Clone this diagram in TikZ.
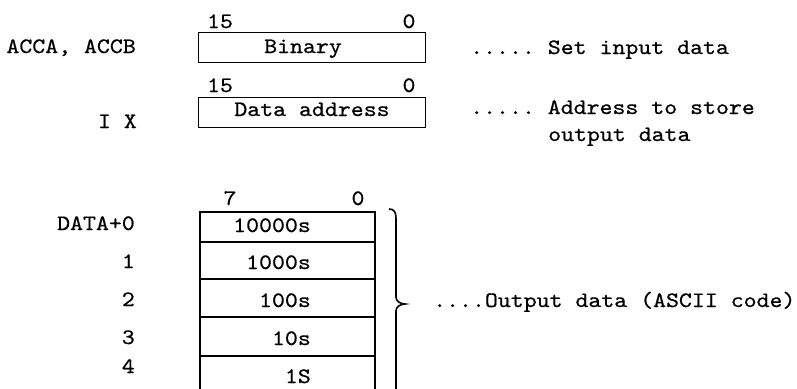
\documentclass[tikz,border=0pt]{standalone}
\usepackage{fontspec}
\setmonofont{lmmono10-regular.otf}[FakeStretch=1.12, FakeBold=0.6]
\begin{document}
\begin{tikzpicture}[x=1pt,y=-1pt,
  every node/.style={inner sep=0pt, font=\ttfamily\fontsize{22}{27}\selectfont},
  reg/.style={draw, line width=1.4pt, anchor=north west, minimum width=227pt, minimum height=30pt},
  cell/.style={draw, line width=1.6pt, anchor=north west, minimum width=175pt},
  lbl/.style={anchor=base east},
  txt/.style={anchor=base west},
  val/.style={anchor=base east},
  bitno/.style={anchor=base},
]
\useasboundingbox (0,0) rectangle (797,388);
\clip (0,0) rectangle (797,388);

% ---- register ACCA, ACCB
\node[bitno] (b15a) at (220,28) {15};
\node[bitno] (b0a) at (409,28) {0};
\node[reg] (bin) at (198,32) {};
\node[bitno] (binT) at (303,53) {Binary};
\node[lbl] (acc) at (136,53) {ACCA, ACCB};
\node[txt] (setin) at (470,54) {..... Set input data};

% ---- register IX
\node[bitno] (b15b) at (220,92) {15};
\node[bitno] (b0b) at (409,92) {0};
\node[reg] (adr) at (198,97) {};
\node[bitno] (adrT) at (312,116) {Data address};
\node[lbl] (ix) at (137,128) {I X};
\node[txt] (adrD1) at (470,114) {..... Address to store};
\node[txt] (adrD2) at (548,141) {output data};

% ---- output buffer
\node[bitno] (b7) at (230,205) {7};
\node[bitno] (b0c) at (358,205) {0};
\node[cell, minimum height=30pt] (c0) at (199,211) {};
\node[cell, minimum height=37pt] (c1) at (199,241) {};
\node[cell, minimum height=38pt] (c2) at (199,278) {};
\node[cell, minimum height=39pt] (c3) at (199,316) {};
\node[cell, minimum height=40pt] (c4) at (199,355) {};

\node[val] (v0) at (311,232) {10000s};
\node[val] (v1) at (311,269) {1000s};
\node[val] (v2) at (311,307) {100s};
\node[val] (v3) at (311,345) {10s};
\node[val] (v4) at (311,383) {1S};

\node[lbl] (l0) at (135,230) {DATA+0};
\node[lbl] (l1) at (135,268) {1};
\node[lbl] (l2) at (135,306) {2};
\node[lbl] (l3) at (135,344) {3};
\node[lbl] (l4) at (135,373) {4};

% brace
\draw[line width=1.6pt] (389,209) .. controls (394,209) and (396,212) .. (396,218)
  -- (396,297) .. controls (396,301) and (400,304) .. (405,304)
  .. controls (400,304) and (396,307) .. (396,311) -- (396,390)
  .. controls (396,396) and (394,399) .. (389,399);
\node[txt] (outD) at (433,307) {....Output data (ASCII code)};
\end{tikzpicture}
\end{document}
